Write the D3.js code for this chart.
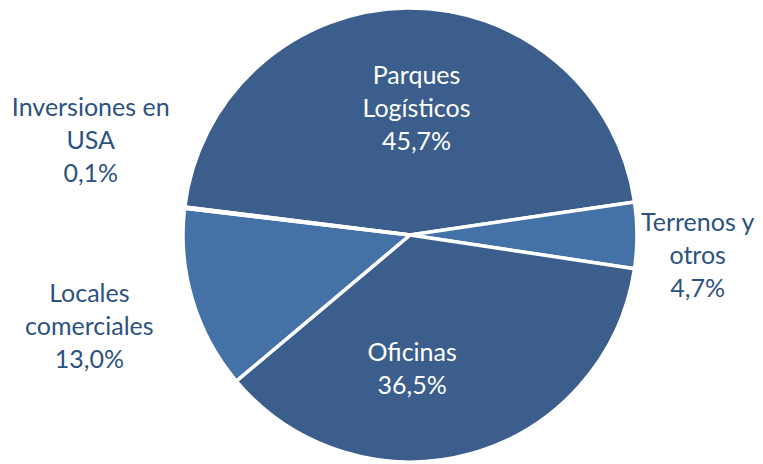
<!DOCTYPE html>
<html>
<head>
<meta charset="utf-8">
<script src="https://cdn.jsdelivr.net/npm/d3@7"></script>
<style>
  body { margin: 0; background: #fff; }
  svg text { font-family: Lato, "Open Sans", sans-serif; }
</style>
</head>
<body>
<script>

// Data
var categories = ["Parques Logísticos", "Terrenos y otros", "Oficinas", "Locales comerciales", "Inversiones en USA"];
var labelLines = [["Parques", "Logísticos"], ["Terrenos y", "otros"], ["Oficinas"], ["Locales", "comerciales"], ["Inversiones en", "USA"]];
var values = [45.7, 4.7, 36.5, 13.0, 0.1];
var inside = [true, false, true, false, false];


// Layout
var width = 763, height = 464;
var cx = 410, cy = 235, r = 227;
var start = -82.9 * Math.PI / 180;
var lineH = 33;

// small nudges so labels sit where the original put them
var nudge = {
    "Parques Logísticos":  [8, 2],
    "Terrenos y otros":    [-46, 20],
    "Oficinas":            [-33, 9],
    "Locales comerciales": [-1, -5],
    "Inversiones en USA":  [12, -55]
};
var labelRadius = { inner: 0.57, outer: 1.47 };

var colors = ["#3b5e8c", "#4572a6", "#3b5e8c", "#4572a6", "#4572a6"];

var svg = d3.select("body").append("svg")
            .attr("width", width)
            .attr("height", height);

var g = svg.append("g")
           .attr("transform", "translate(" + cx + "," + cy + ")");

var pie = d3.pie().sort(null)
            .startAngle(start)
            .endAngle(start + 2 * Math.PI);

var arcs = pie(values);

var arc = d3.arc().innerRadius(0).outerRadius(r);

g.selectAll("path.slice")
 .data(arcs)
 .enter().append("path")
 .attr("class", "slice")
 .attr("d", arc)
 .attr("fill", function (d, i) { return colors[i]; })
 .attr("stroke", "#fff")
 .attr("stroke-width", 3.5)
 .attr("stroke-linejoin", "round");

var fmt = function (v) { return v.toFixed(1).replace(".", ",") + "%"; };

var labels = g.selectAll("text.lbl")
              .data(arcs)
              .enter().append("text")
              .attr("class", "lbl")
              .attr("text-anchor", "middle")
              .attr("font-size", 25)
              .attr("fill", function (d, i) { return inside[i] ? "#ffffff" : "#2c5282"; })
              .attr("transform", function (d, i) {
                  var k = inside[i] ? labelRadius.inner : labelRadius.outer;
                  var p = d3.arc().innerRadius(r * k).outerRadius(r * k).centroid(d);
                  var n = nudge[categories[i]];
                  return "translate(" + (p[0] + n[0]) + "," + (p[1] + n[1]) + ")";
              });

labels.each(function (d, i) {
    var lines = labelLines[i].concat([fmt(values[i])]);
    var t = d3.select(this);
    var y0 = -(lines.length - 1) / 2 * lineH + 9;
    lines.forEach(function (s, j) {
        t.append("tspan")
         .attr("x", 0)
         .attr("y", y0 + j * lineH)
         .text(s);
    });
});

</script>
</body>
</html>
